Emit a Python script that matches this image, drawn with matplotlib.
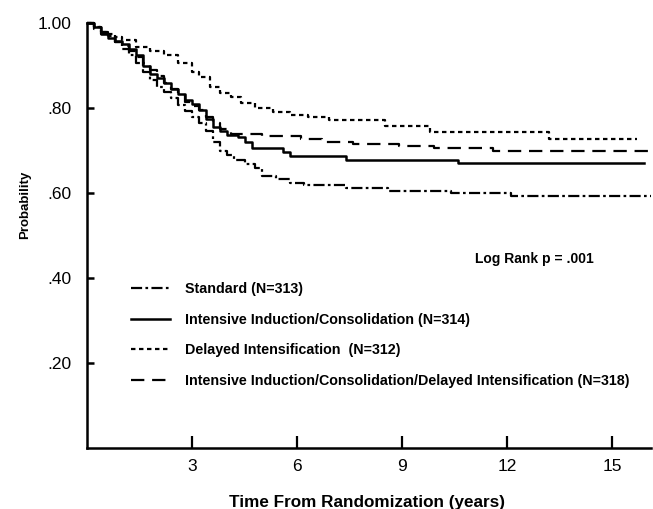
import matplotlib
matplotlib.use("Agg")
import matplotlib.pyplot as plt
from matplotlib import font_manager as fm

# ---------------- data ----------------
std_t = [0, 0.2, 0.4, 0.6, 0.8, 1.0, 1.2, 1.4, 1.6, 1.8, 2.0, 2.2, 2.4, 2.6, 2.8, 3.0, 3.2, 3.4, 3.6,
         3.8, 4.0, 4.2, 4.5, 4.8, 5.0, 5.4, 5.8, 6.2, 7.4, 8.6, 10.4, 12.1, 16.1]
std_p = [1.0, 0.99, 0.98, 0.97, 0.955, 0.94, 0.925, 0.905, 0.885, 0.865, 0.85, 0.838, 0.823, 0.808,
         0.793, 0.78, 0.765, 0.745, 0.72, 0.70, 0.69, 0.677, 0.668, 0.66, 0.64, 0.632, 0.624, 0.619,
         0.612, 0.605, 0.60, 0.592, 0.592]

iic_t = [0, 0.2, 0.4, 0.6, 0.8, 1.0, 1.2, 1.4, 1.6, 1.8, 2.0, 2.2, 2.4, 2.6, 2.8, 3.0, 3.2, 3.4, 3.6,
         3.8, 4.0, 4.3, 4.5, 4.7, 5.6, 5.8, 7.4, 10.6, 15.9]
iic_p = [1.0, 0.99, 0.975, 0.965, 0.958, 0.95, 0.94, 0.925, 0.9, 0.88, 0.87, 0.858, 0.845, 0.832,
         0.818, 0.81, 0.795, 0.775, 0.755, 0.745, 0.736, 0.732, 0.72, 0.705, 0.697, 0.687, 0.678,
         0.671, 0.671]

di_t = [0, 0.2, 0.4, 0.6, 0.8, 1.0, 1.4, 1.8, 2.2, 2.6, 3.0, 3.2, 3.5, 3.8, 4.1, 4.4, 4.8, 5.3, 5.8,
        6.3, 6.9, 8.5, 9.8, 13.2, 15.7]
di_p = [1.0, 0.99, 0.98, 0.975, 0.967, 0.96, 0.944, 0.935, 0.925, 0.905, 0.885, 0.872, 0.85, 0.835,
        0.825, 0.812, 0.8, 0.79, 0.783, 0.779, 0.772, 0.757, 0.744, 0.728, 0.728]

iicdi_t = [0, 0.2, 0.4, 0.6, 0.8, 1.0, 1.2, 1.4, 1.6, 1.8, 2.0, 2.2, 2.4, 2.6, 2.8, 3.0, 3.2, 3.4,
           3.6, 3.8, 4.1, 5.0, 6.1, 6.7, 7.6, 8.9, 9.9, 11.6, 16.1]
iicdi_p = [1.0, 0.985, 0.975, 0.965, 0.955, 0.945, 0.935, 0.92, 0.905, 0.89, 0.875, 0.86, 0.845,
           0.83, 0.815, 0.805, 0.795, 0.78, 0.765, 0.75, 0.738, 0.733, 0.727, 0.72, 0.715, 0.71,
           0.705, 0.699, 0.699]

labels = ["Standard (N=313)",
          "Intensive Induction/Consolidation (N=314)",
          "Delayed Intensification  (N=312)",
          "Intensive Induction/Consolidation/Delayed Intensification (N=318)"]

xticks = [3, 6, 9, 12, 15]
yticks = [0.2, 0.4, 0.6, 0.8, 1.0]
ytick_labels = [".20", ".40", ".60", ".80", "1.00"]

# ---------------- fonts ----------------
main = "Liberation Sans"

# ---------------- figure ----------------
fig = plt.figure(figsize=(6.53, 5.09), dpi=100)
ax = fig.add_axes([87 / 653, 61 / 509, 564 / 653, 425 / 509])

lw = 1.6
ax.plot(std_t, std_p, drawstyle="steps-post", color="black", lw=lw,
        dashes=(5, 1.5, 1.2, 1.5), label=labels[0], clip_on=False)
ax.plot(iic_t, iic_p, drawstyle="steps-post", color="black", lw=lw + 0.2,
        linestyle="-", label=labels[1], clip_on=False)
ax.plot(di_t, di_p, drawstyle="steps-post", color="black", lw=lw,
        dashes=(2.0, 1.6), label=labels[2], clip_on=False)
ax.plot(iicdi_t, iicdi_p, drawstyle="steps-post", color="black", lw=lw,
        dashes=(6, 3.5), label=labels[3], clip_on=False)

ax.set_xlim(0, 16.1)
ax.set_ylim(0, 1.0)

for s in ["top", "right"]:
    ax.spines[s].set_visible(False)
for s in ["left", "bottom"]:
    ax.spines[s].set_linewidth(1.8)

ax.set_xticks(xticks)
ax.set_xticklabels([str(v) for v in xticks], fontfamily=main, fontsize=12.5)
ax.set_yticks(yticks)
ax.set_yticklabels(ytick_labels, fontfamily=main, fontsize=12.5)
ax.tick_params(axis="x", direction="in", length=9, width=1.6, pad=8)
ax.tick_params(axis="y", direction="in", length=5, width=1.8, pad=11.5)

ax.set_xlabel("Time From Randomization (years)", fontfamily=main, fontweight="bold",
              fontsize=12.3)
ax.xaxis.set_label_coords((367 - 87) / 564, (448 - 502) / 425)
ax.xaxis.label.set_va("center")
ax.set_ylabel("Probability", fontfamily=main, fontweight="bold", fontsize=9.5)
ax.yaxis.set_label_coords((25 - 87) / 564, (448 - 205) / 425)
ax.yaxis.label.set_va("center")

ax.text((475 - 87) / 564, (448 - 259) / 425, "Log Rank p = .001", transform=ax.transAxes,
        fontfamily=main, fontweight="bold", fontsize=10, ha="left", va="center")

leg = ax.legend(loc="upper left", bbox_to_anchor=(0.055, 0.42), frameon=False,
                prop={"family": main, "weight": "bold", "size": 10.3},
                handlelength=2.75, handletextpad=1.05, labelspacing=1.15)

fig.savefig("out.png", dpi=100)
